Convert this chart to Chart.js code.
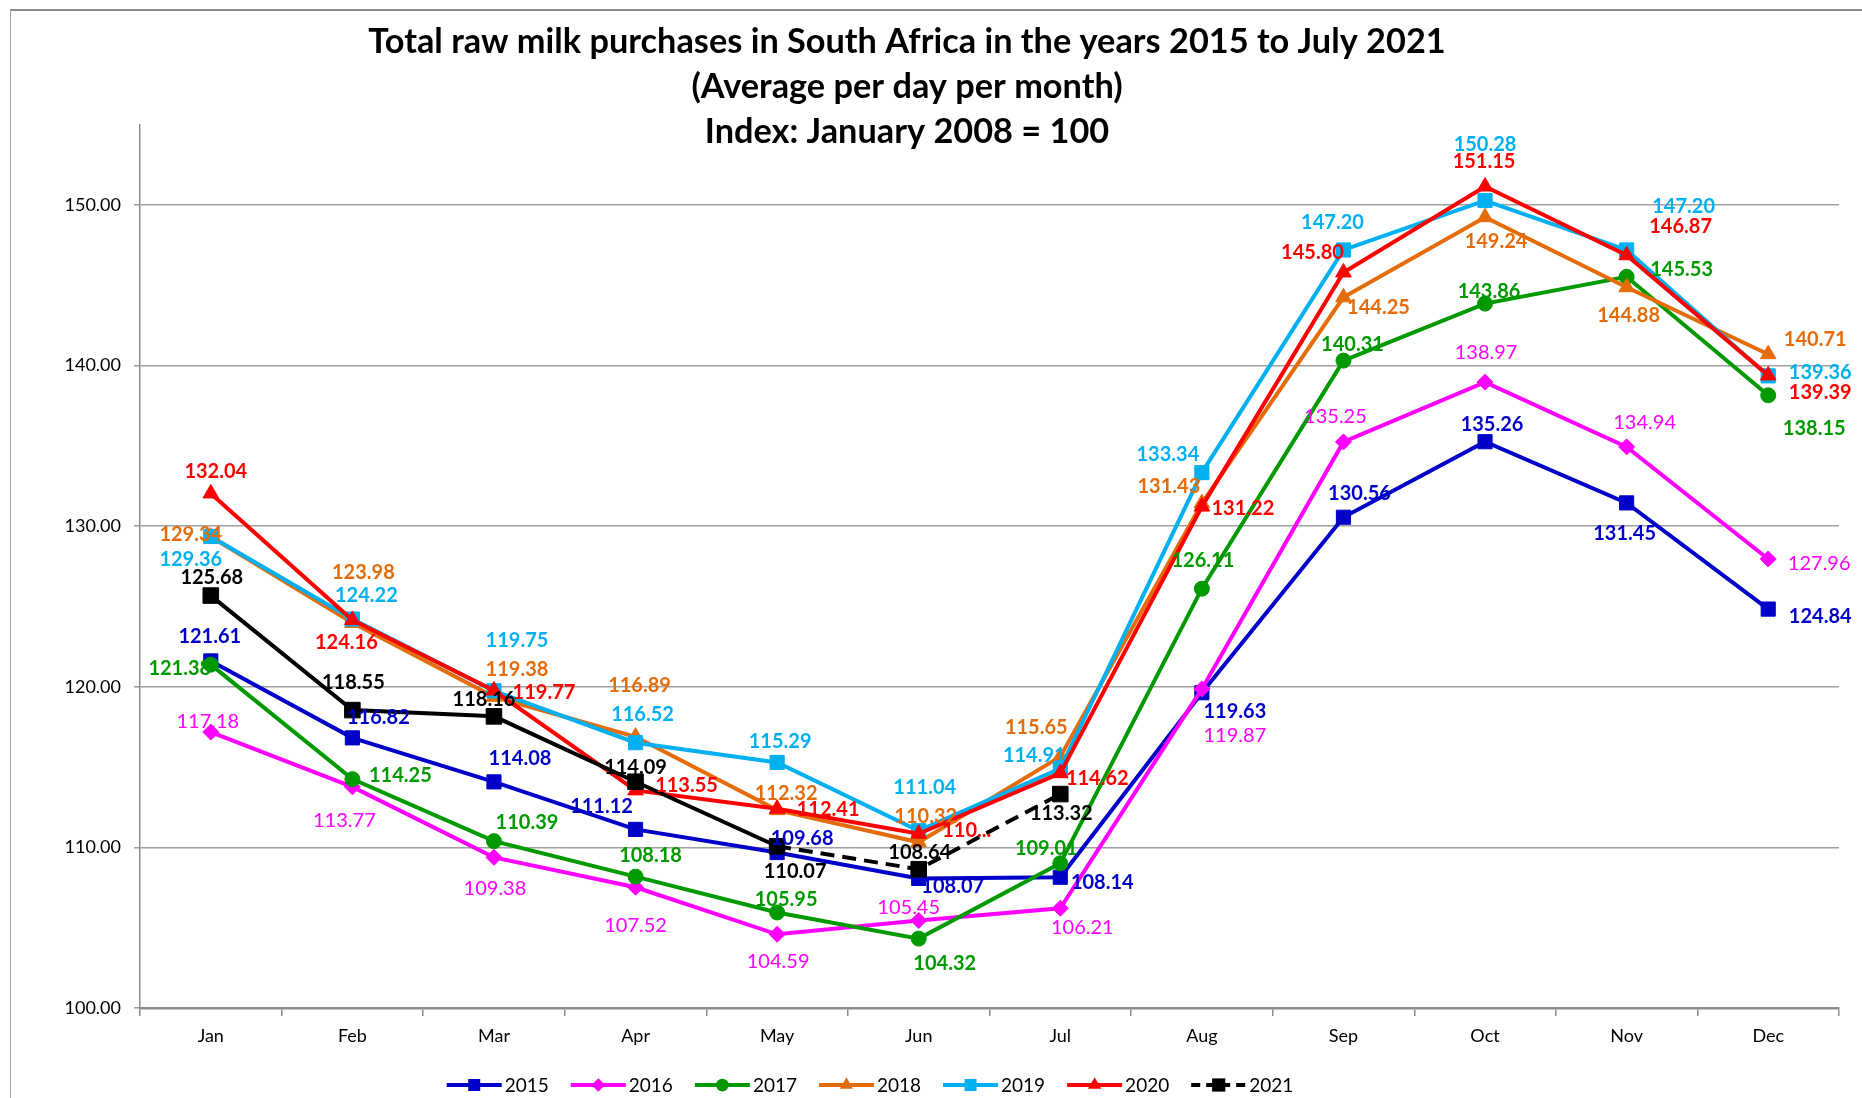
<!DOCTYPE html>
<html>
<head>
<meta charset="utf-8">
<script src="https://cdn.jsdelivr.net/npm/chart.js@4.4.0/dist/chart.umd.min.js"></script>
<style>
html,body{margin:0;padding:0;background:#fff;}
#wrap{position:relative;width:1862px;height:1098px;}
</style>
</head>
<body>
<div id="wrap"><canvas id="c"></canvas></div>
<script>
// ---------- data ----------
const MONTHS = ['Jan','Feb','Mar','Apr','May','Jun','Jul','Aug','Sep','Oct','Nov','Dec'];
const YEARS = ['2015','2016','2017','2018','2019','2020','2021'];
const V2015 = [121.61,116.82,114.08,111.12,109.68,108.07,108.14,119.63,130.56,135.26,131.45,124.84];
const V2016 = [117.18,113.77,109.38,107.52,104.59,105.45,106.21,119.87,135.25,138.97,134.94,127.96];
const V2017 = [121.38,114.25,110.39,108.18,105.95,104.32,109.01,126.11,140.31,143.86,145.53,138.15];
const V2018 = [129.34,123.98,119.38,116.89,112.32,110.32,115.65,131.43,144.25,149.24,144.88,140.71];
const V2019 = [129.36,124.22,119.75,116.52,115.29,111.04,114.91,133.34,147.20,150.28,147.20,139.36];
const V2020 = [132.04,124.16,119.77,113.55,112.41,110.85,114.62,131.22,145.80,151.15,146.87,139.39];
const V2021 = [125.68,118.55,118.16,114.09,110.07,108.64,113.32,null,null,null,null,null];
const Y_TICKS = [100,110,120,130,140,150];
const TITLE_LINES = ['Total raw milk purchases in South Africa in the years 2015 to July 2021','(Average per day per month)','Index: January 2008 = 100'];
const LABEL_TEXT_OVERRIDE = {'5-5':'110...'};

// ---------- label placement (offset of label centre from its point, px) ----------
const OFF2015 = [[-1,-24],[26,-20],[26,-23],[-34,-23],[25,-14],[34,8],[42,5],[33,19],[16,-24],[7,-17],[-2,31],[52,7]];
const OFF2016 = [[-3,-11],[-8,34],[1,31],[0,38],[1,27],[-10,-13],[22,19],[33,47],[-8,-25],[1,-30],[18,-24],[51,5]];
const OFF2017 = [[-31,4],[48,-4],[33,-19],[15,-21],[9,-13],[26,25],[-14,-15],[1,-28],[9,-16],[4,-12],[55,-7],[46,33]];
const OFF2018 = [[-20,-2],[11,-50],[23,-27],[4,-51],[9,-17],[7,-26],[-24,-29],[-33,-17],[35,10],[11,24],[2,28],[47,-15]];
const OFF2019 = [[-20,23],[14,-23],[23,-50],[7,-28],[3,-21],[6,-43],[-26,-13],[-34,-18],[-11,-27],[0,-56],[57,-43],[52,-3]];
const OFF2020 = [[5,-22],[-6,23],[50,2],[51,-5],[51,1],[48,-3],[37,5],[41,2],[-31,-20],[-1,-25],[54,-29],[52,17]];
const OFF2021 = [[1,-18],[1,-28],[-10,-17],[0,-14],[18,25],[1,-17],[1,19]];

// ---------- styles ----------
const SERIES = [V2015,V2016,V2017,V2018,V2019,V2020,V2021];
const OFFSETS = [OFF2015,OFF2016,OFF2017,OFF2018,OFF2019,OFF2020,OFF2021];
const COLORS = ['#0000C8','#FF00FF','#009A00','#E46C0A','#00B0F0','#FF0000','#000000'];
const MARKERS = ['rect','rectRot','circle','triangle','rect','triangle','rect'];
const RADII = [10,8,7.5,9,10,9,11];
const LABEL_BOLD = [true,false,true,true,true,true,true];
const FONT = 'Lato, "Liberation Sans", sans-serif';

function drawMarker(ctx, style, x, y, r, color){
  ctx.save();
  ctx.fillStyle = color;
  ctx.beginPath();
  if (style === 'rect'){ const s = r*Math.SQRT1_2; ctx.rect(x-s,y-s,2*s,2*s); }
  else if (style === 'rectRot'){ ctx.moveTo(x,y-r); ctx.lineTo(x+r,y); ctx.lineTo(x,y+r); ctx.lineTo(x-r,y); ctx.closePath(); }
  else if (style === 'circle'){ ctx.arc(x,y,r,0,Math.PI*2); }
  else if (style === 'triangle'){ ctx.moveTo(x,y-r); ctx.lineTo(x+0.866*r,y+0.5*r); ctx.lineTo(x-0.866*r,y+0.5*r); ctx.closePath(); }
  ctx.fill();
  ctx.restore();
}

const framePlugin = {
  id:'frame',
  beforeDraw(chart){
    const ctx = chart.ctx;
    ctx.save();
    ctx.fillStyle = '#fff';
    ctx.fillRect(0,0,chart.width,chart.height);
    ctx.strokeStyle = '#8c8c8c';
    ctx.lineWidth = 2;
    ctx.beginPath(); ctx.moveTo(10,10); ctx.lineTo(chart.width,10); ctx.stroke();
    ctx.lineWidth = 1;
    ctx.strokeStyle = '#a0a0a0';
    ctx.beginPath(); ctx.moveTo(10.5,10); ctx.lineTo(10.5,chart.height); ctx.stroke();
    // title
    ctx.fillStyle = '#000';
    ctx.textAlign = 'center';
    ctx.textBaseline = 'middle';
    let size = 31;
    ctx.font = 'bold ' + size + 'px ' + FONT;
    const w = ctx.measureText(TITLE_LINES[0]).width;
    size = Math.min(36, Math.max(26, size*1078/w));
    ctx.font = 'bold ' + size.toFixed(1) + 'px ' + FONT;
    const ys = [41.6, 86.7, 131.8];
    TITLE_LINES.forEach((t,i)=>ctx.fillText(t, 907, ys[i]));
    ctx.restore();
  }
};

const labelPlugin = {
  id:'valueLabels',
  afterDatasetsDraw(chart){
    const ctx = chart.ctx;
    ctx.save();
    ctx.textAlign = 'center';
    ctx.textBaseline = 'middle';
    SERIES.forEach((vals, i)=>{
      const meta = chart.getDatasetMeta(i);
      ctx.font = (LABEL_BOLD[i] ? 'bold ' : '') + '20px ' + FONT;
      ctx.fillStyle = COLORS[i];
      vals.forEach((v, j)=>{
        if (v === null) return;
        const pt = meta.data[j];
        const off = OFFSETS[i][j] || [0,-20];
        const txt = LABEL_TEXT_OVERRIDE[i+'-'+j] || v.toFixed(2);
        ctx.fillText(txt, pt.x + off[0], pt.y + off[1]);
      });
    });
    ctx.restore();
  }
};

const legendPlugin = {
  id:'customLegend',
  afterDraw(chart){
    const ctx = chart.ctx;
    ctx.save();
    ctx.font = '19px ' + FONT;
    ctx.textBaseline = 'middle';
    ctx.textAlign = 'left';
    const lineW = 55, gapT = 3, gapItem = 22;
    const widths = YEARS.map(y=>ctx.measureText(y).width);
    const total = widths.reduce((a,w)=>a+lineW+gapT+w+gapItem,0) - gapItem;
    let x = 870 - total/2;
    const y = 1085;
    YEARS.forEach((yr,i)=>{
      ctx.strokeStyle = COLORS[i];
      ctx.lineWidth = 4;
      ctx.setLineDash(i === 6 ? [9,6] : []);
      ctx.beginPath(); ctx.moveTo(x,y); ctx.lineTo(x+lineW,y); ctx.stroke();
      ctx.setLineDash([]);
      drawMarker(ctx, MARKERS[i], x+lineW/2, y, RADII[i]*0.85, COLORS[i]);
      ctx.fillStyle = '#000';
      ctx.fillText(yr, x+lineW+gapT, y+1);
      x += lineW + gapT + widths[i] + gapItem;
    });
    ctx.restore();
  }
};

const datasets = SERIES.map((vals,i)=>({
  label: YEARS[i],
  data: vals,
  borderColor: COLORS[i],
  backgroundColor: COLORS[i],
  pointBackgroundColor: COLORS[i],
  pointBorderColor: COLORS[i],
  pointBorderWidth: 1,
  pointStyle: MARKERS[i],
  pointRadius: RADII[i],
  borderWidth: 4,
  tension: 0,
  spanGaps: false,
  order: 10 - i,
  segment: i === 6 ? { borderDash: c => c.p0DataIndex >= 4 ? [14,8] : undefined } : undefined
}));

Chart.defaults.font.family = FONT;
Chart.defaults.color = '#000';

new Chart(document.getElementById('c'), {
  type:'line',
  data:{ labels: MONTHS, datasets },
  options:{
    responsive:true,
    maintainAspectRatio:false,
    animation:false,
    devicePixelRatio:1,
    layout:{ padding:{ left:0, right:23, top:124.7, bottom:0 } },
    plugins:{ legend:{display:false}, title:{display:false}, tooltip:{enabled:false} },
    scales:{
      x:{
        type:'category',
        offset:true,
        afterFit(s){ s.height = 90; },
        grid:{ offset:true, drawOnChartArea:false, drawTicks:true, tickLength:8, color:'#8c8c8c', lineWidth:1.5 },
        border:{ display:true, color:'#8c8c8c', width:2.5 },
        ticks:{ font:{ size:18 }, color:'#000', padding:9, maxRotation:0 }
      },
      y:{
        min:100, max:155,
        afterFit(s){ s.width = 140; },
        afterBuildTicks(s){ s.ticks = Y_TICKS.map(v=>({value:v})); },
        grid:{ drawTicks:true, tickLength:6, color:'#a0a0a0', lineWidth:1.6 },
        border:{ display:true, color:'#8c8c8c', width:1.5 },
        ticks:{ font:{ size:18 }, color:'#000', padding:13, callback:v=>Number(v).toFixed(2) }
      }
    }
  },
  plugins:[framePlugin, labelPlugin, legendPlugin]
});
</script>
</body>
</html>
